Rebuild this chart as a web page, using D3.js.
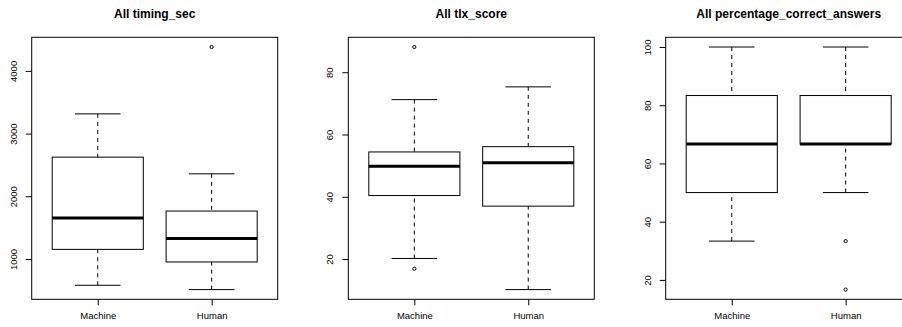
<!DOCTYPE html>
<html>
<head>
<meta charset="utf-8">
<script src="https://cdn.jsdelivr.net/npm/d3@7"></script>
<style>
  body { margin: 0; background: #fff; }
  svg { display: block; font-family: "Liberation Sans", Arial, Helvetica, sans-serif; }
</style>
</head>
<body>
<svg id="chart" width="902" height="327"></svg>
<script>
// groups on the x axis
var groups = ["Machine", "Human"];
var titles = ["All timing_sec", "All tlx_score", "All percentage_correct_answers"];

// box stats: [lower whisker, q1, median, q3, upper whisker]
var timingMachine = [580, 1153, 1653, 2624, 3314];
var timingHuman = [511, 952, 1328, 1764, 2358];
var timingMachineOut = [];
var timingHumanOut = [4381];

var tlxMachine = [20.2, 40.4, 49.8, 54.4, 71.2];
var tlxHuman = [10.2, 37, 50.9, 56.1, 75.3];
var tlxMachineOut = [16.9, 88.1];
var tlxHumanOut = [];

var pctMachine = [33.33, 50, 66.67, 83.33, 100];
var pctHuman = [50, 66.67, 66.67, 83.33, 100];
var pctMachineOut = [];
var pctHumanOut = [16.67, 33.33];

// tick labels
var timingTicks = [1000, 2000, 3000, 4000];
var tlxTicks = [20, 40, 60, 80];
var pctTicks = [20, 40, 60, 80, 100];

var panels = [
  {title: titles[0], stats: [timingMachine, timingHuman], outs: [timingMachineOut, timingHumanOut], ticks: timingTicks},
  {title: titles[1], stats: [tlxMachine, tlxHuman], outs: [tlxMachineOut, tlxHumanOut], ticks: tlxTicks},
  {title: titles[2], stats: [pctMachine, pctHuman], outs: [pctMachineOut, pctHumanOut], ticks: pctTicks}
];

var svg = d3.select("#chart");
var plotW = 246, plotTop = 37.3, plotBottom = 299.3;
var lefts = [31.7, 348.3, 665.7];

panels.forEach(function(p, k) {
  var g = svg.append("g").attr("transform", "translate(" + lefts[k] + ",0)");

  // R style: data range extended by 4%
  var all = d3.merge(p.stats.concat(p.outs));
  var ext = d3.extent(all), pad = (ext[1] - ext[0]) * 0.04;
  var y = d3.scaleLinear().domain([ext[0] - pad, ext[1] + pad]).range([plotBottom, plotTop]);
  var x = d3.scalePoint().domain(groups).range([0, plotW]).padding(0.58);
  var half = x.step() * 0.4;

  // title
  g.append("text")
    .attr("x", plotW / 2).attr("y", 17.5)
    .attr("text-anchor", "middle")
    .style("font-size", "12px").style("font-weight", "bold")
    .text(p.title);

  // y axis
  var ya = g.append("g")
    .call(d3.axisLeft(y).tickValues(p.ticks).tickSize(6).tickFormat(d3.format("d")));
  ya.select(".domain").remove();
  ya.selectAll("line").attr("stroke", "#000");
  ya.selectAll("text")
    .attr("x", 0).attr("dy", null).attr("y", -15)
    .attr("transform", "rotate(-90)")
    .attr("text-anchor", "middle")
    .attr("fill", "#000")
    .style("font-size", "9.5px");
  ya.attr("font-family", null);

  // x axis
  var xa = g.append("g").attr("transform", "translate(0," + plotBottom + ")")
    .call(d3.axisBottom(x).tickSize(6));
  xa.select(".domain").remove();
  xa.selectAll("line").attr("stroke", "#000");
  xa.selectAll("text")
    .attr("y", 20).attr("dy", null)
    .attr("fill", "#000")
    .style("font-size", "9.5px");
  xa.attr("font-family", null);

  // boxes
  groups.forEach(function(name, i) {
    var s = p.stats[i], cx = x(name);
    var b = g.append("g").attr("fill", "none").attr("stroke", "#000");
    // whiskers
    b.append("line").attr("x1", cx).attr("x2", cx).attr("y1", y(s[4])).attr("y2", y(s[3]))
      .attr("stroke-dasharray", "4,4");
    b.append("line").attr("x1", cx).attr("x2", cx).attr("y1", y(s[0])).attr("y2", y(s[1]))
      .attr("stroke-dasharray", "4,4");
    // caps
    [s[0], s[4]].forEach(function(v) {
      b.append("line").attr("x1", cx - half / 2).attr("x2", cx + half / 2)
        .attr("y1", y(v)).attr("y2", y(v));
    });
    // box
    b.append("rect").attr("x", cx - half).attr("width", half * 2)
      .attr("y", y(s[3])).attr("height", y(s[1]) - y(s[3]));
    // median
    b.append("line").attr("x1", cx - half).attr("x2", cx + half)
      .attr("y1", y(s[2])).attr("y2", y(s[2])).attr("stroke-width", 3);
    // outliers
    p.outs[i].forEach(function(v) {
      b.append("circle").attr("cx", cx).attr("cy", y(v)).attr("r", 1.6);
    });
  });

  // frame
  g.append("rect").attr("x", 0).attr("y", plotTop).attr("width", plotW).attr("height", plotBottom - plotTop)
    .attr("fill", "none").attr("stroke", "#000");
});
</script>
</body>
</html>
